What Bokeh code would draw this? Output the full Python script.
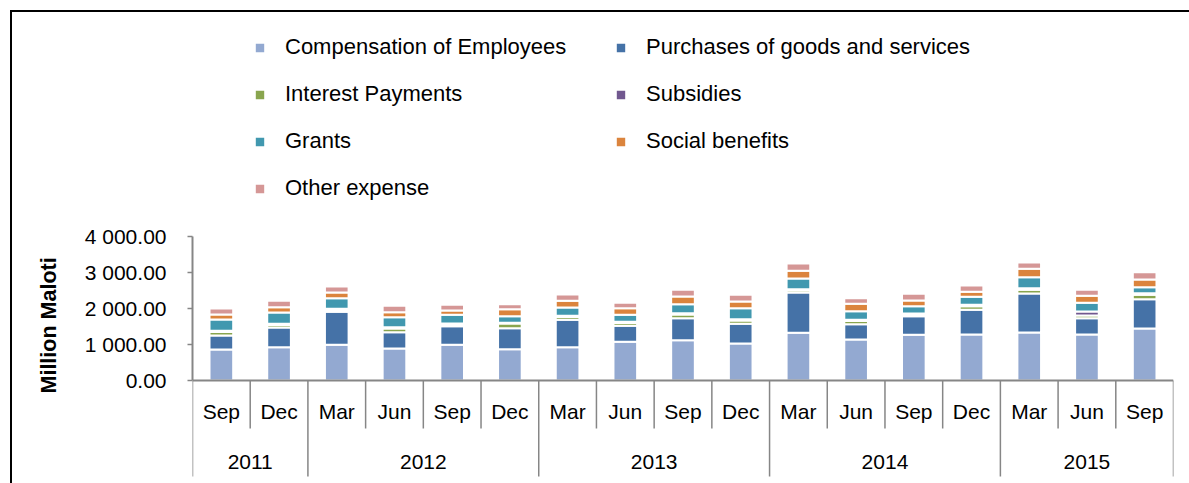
from bokeh.plotting import figure
from bokeh.models import (FactorRange, Range1d, FixedTicker, CustomJSTickFormatter,
                          Legend, LegendItem, ColumnDataSource, Title)
from bokeh.core.properties import value
from bokeh.embed import file_html
from bokeh.resources import INLINE

# ---------------- data ----------------
years = ["2011", "2011",
         "2012", "2012", "2012", "2012",
         "2013", "2013", "2013", "2013",
         "2014", "2014", "2014", "2014",
         "2015", "2015", "2015"]
quarters = ["Sep", "Dec",
            "Mar", "Jun", "Sep", "Dec",
            "Mar", "Jun", "Sep", "Dec",
            "Mar", "Jun", "Sep", "Dec",
            "Mar", "Jun", "Sep"]

series_names = ["Compensation of Employees", "Purchases of goods and services",
                "Interest Payments", "Subsidies", "Grants", "Social benefits",
                "Other expense"]

compensation = [861, 926, 991, 889, 991, 870, 926, 1074, 1120, 1028, 1324, 1139, 1269, 1278, 1333, 1278, 1444]
purchases    = [389, 546, 916, 454, 518, 584, 759, 445, 611, 546, 1120, 426, 518, 685, 1084, 453, 815]
interest     = [95, 72, 60, 101, 52, 129, 80, 80, 100, 93, 65, 85, 52, 100, 105, 75, 120]
subsidies    = [35, 30, 24, 37, 22, 19, 31, 31, 39, 37, 28, 35, 22, 39, 43, 111, 47]
grants       = [314, 315, 296, 278, 241, 185, 232, 194, 250, 305, 296, 241, 204, 222, 305, 240, 167]
social       = [139, 148, 157, 139, 120, 194, 185, 185, 213, 185, 213, 204, 157, 139, 232, 195, 213]
other        = [167, 176, 167, 176, 158, 139, 176, 148, 186, 186, 204, 157, 185, 176, 176, 167, 203]

y_ticks = [0, 1000, 2000, 3000, 4000]
y_title = "Million Maloti"

colors = ["#93A9D1", "#4572A7", "#89A54E", "#71588F", "#4198AF", "#DB843D", "#D59796"]

# ---------------- layout constants ----------------
PX_PER_UNIT = 36.0 / 1000.0       # screen px per data unit on y
ZERO_PAGE_Y = 380                 # page y of the value 0
FIG_TOP, FIG_LEFT = 10, 10
FIG_W, FIG_H = 1179, 473
FRAME_LEFT_PAGE = 192
FONT = "Liberation Sans"
GREY = "#868686"

x = list(zip(years, quarters))
keys = ["compensation", "purchases", "interest", "subsidies", "grants", "social", "other"]
src = ColumnDataSource(dict(x=x, compensation=compensation, purchases=purchases,
                            interest=interest, subsidies=subsidies, grants=grants,
                            social=social, other=other))

y_start = -((FIG_TOP + FIG_H) - ZERO_PAGE_Y) / PX_PER_UNIT
y_end = (ZERO_PAGE_Y - FIG_TOP) / PX_PER_UNIT

p = figure(x_range=FactorRange(*x, factor_padding=0, subgroup_padding=0,
                               group_padding=0, range_padding=0),
           y_range=Range1d(y_start, y_end),
           width=FIG_W, height=FIG_H, output_backend="svg", toolbar_location=None,
           min_border_left=FRAME_LEFT_PAGE - FIG_LEFT, min_border_right=16,
           min_border_top=0, min_border_bottom=0)
p.margin = (FIG_TOP, 0, 0, FIG_LEFT)
p.styles = {"box-shadow": "inset 2px 2px 0 0 #000000"}
p.border_fill_color = None
p.background_fill_color = None
p.outline_line_color = None
p.xgrid.visible = False
p.ygrid.visible = False

renderers = p.vbar_stack(keys, x="x", width=0.41, source=src,
                         fill_color=colors, line_color="white", line_width=2)

# ---------------- category separators below the axis ----------------
n = len(x)
year_bounds = [0] + [i for i in range(1, n) if years[i] != years[i - 1]] + [n]
quarter_bounds = [i for i in range(1, n) if i not in year_bounds]
y_quarter_end = -(428 - ZERO_PAGE_Y) / PX_PER_UNIT
y_year_end = -(476 - ZERO_PAGE_Y) / PX_PER_UNIT
p.segment(x0=quarter_bounds, y0=[0] * len(quarter_bounds), x1=quarter_bounds,
          y1=[y_quarter_end] * len(quarter_bounds), line_color=GREY, line_width=1.5)
p.segment(x0=year_bounds, y0=[0] * len(year_bounds), x1=year_bounds,
          y1=[y_year_end] * len(year_bounds), line_color=GREY, line_width=1.5)

# year (group) labels, centred in each year's span
year_names = [years[b] for b in year_bounds[:-1]]
year_centres = [(a + b) / 2 for a, b in zip(year_bounds[:-1], year_bounds[1:])]
y_year_label = -(461 - ZERO_PAGE_Y) / PX_PER_UNIT
p.text(x=year_centres, y=[y_year_label] * len(year_names), text=year_names,
       text_font=value(FONT), text_font_size="21px", text_color="#000000",
       text_align="center", text_baseline="middle")

# ---------------- x axis ----------------
xa = p.xaxis[0]
xa.fixed_location = 0
xa.axis_line_color = GREY
xa.axis_line_width = 2
xa.major_tick_line_color = None
xa.major_tick_out = 0
xa.major_tick_in = 0
xa.minor_tick_line_color = None
xa.separator_line_color = None
xa.major_label_standoff = 19
xa.major_label_text_font = FONT
xa.major_label_text_font_size = "21px"
xa.major_label_text_color = "#000000"
xa.group_text_color = None

# ---------------- y axis ----------------
ya = p.yaxis[0]
ya.bounds = (0, 4000)
ya.ticker = FixedTicker(ticks=y_ticks, minor_ticks=[])
ya.formatter = CustomJSTickFormatter(code="""
const s = tick.toFixed(2);
const parts = s.split('.');
return parts[0].replace(/\\B(?=(\\d{3})+(?!\\d))/g, ' ') + '.' + parts[1];
""")
ya.axis_line_color = GREY
ya.axis_line_width = 2
ya.major_tick_line_color = GREY
ya.major_tick_line_width = 1.5
ya.major_tick_out = 5
ya.major_tick_in = 0
ya.minor_tick_out = 0
ya.minor_tick_in = 0
ya.major_label_standoff = 21
ya.major_label_text_font = FONT
ya.major_label_text_font_size = "21px"
ya.major_label_text_color = "#000000"

# axis title in the left panel, shifted up from the bottom of the frame
title = Title(text=y_title, align="left", offset=(FIG_TOP + FIG_H) - 393,
              text_font=FONT, text_font_size="21.5px", text_font_style="bold",
              text_color="#000000", standoff=42)
p.add_layout(title, "left")

# ---------------- legend (two columns) ----------------
def make_legend(idx, loc):
    leg = Legend(items=[LegendItem(label=series_names[i], renderers=[renderers[i]]) for i in idx],
                 location=loc, orientation="vertical",
                 glyph_width=13, glyph_height=13, label_standoff=19, label_height=25,
                 spacing=21, padding=0, margin=0,
                 border_line_color=None, background_fill_alpha=0,
                 label_text_font=FONT, label_text_font_size="22px", label_text_color="#000000")
    p.add_layout(leg, "center")

make_legend([0, 2, 4, 6], (61, 282))
make_legend([1, 3, 5], (422, 329))

open("out.html", "w").write(file_html(p, INLINE))
